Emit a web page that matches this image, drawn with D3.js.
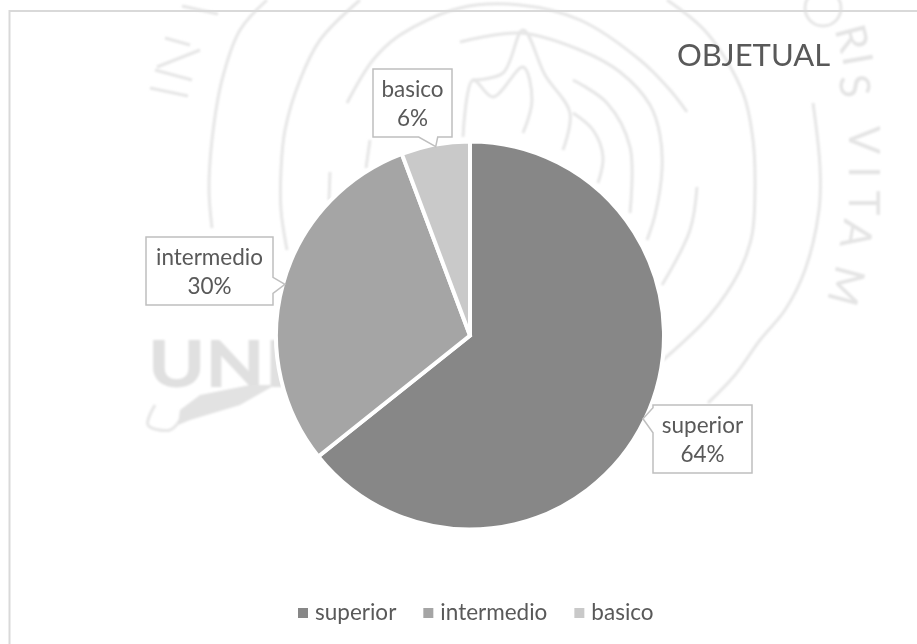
<!DOCTYPE html>
<html lang="en">

<head>
	<meta charset="UTF-8"/>
	<title>OBJETUAL</title>
	<script src="https://d3js.org/d3.v7.min.js"></script>
	<style>
		body { margin: 0; background: #fff; }
		svg { display: block; }
		text { font-family: Lato, "Open Sans", sans-serif; fill: #595959; }
	</style>
</head>

<body>

	<script>

		var w = 917;
		var h = 644;

		//chart values
		var categories = ["superior", "intermedio", "basico"];
		var counts = [45, 21, 4];
		var sliceColors = ["#878787", "#a5a5a5", "#c9c9c9"];

		//callout boxes, same order as categories
		var boxLeft = [653, 146, 373];
		var boxTop = [405, 237, 69];
		var boxWidth = [99, 127, 79];
		var boxHeight = 68;

		//watermark behind the chart
		var ringLines = [
			[[667,0],[707,33],[743,93],[753,140],[755,187],[752,235],[740,270],[710,315],[663,360]],
			[[267,0],[240,30],[222,80],[212,140],[209,190],[212,228]],
			[[360,0],[320,40],[300,80],[285,130],[281,170],[281,210],[287,250]],
			[[347,103],[373,60],[400,35],[460,8],[520,5],[580,20],[640,60],[670,90],[687,112]],
			[[460,42],[520,33],[580,50],[620,72],[650,105],[660,135],[662,170],[655,215],[647,240]],
			[[697,187],[690,230],[662,285]],
			[[813,103],[820,167],[819,210],[805,270],[785,310],[760,340],[735,375],[708,403]],
			[[463,137],[473,80],[493,97],[523,67],[532,100],[523,133]],
			[[473,80],[503,73],[523,30],[545,75],[570,113],[563,150]],
			[[573,113],[593,130],[603,157],[598,183]],
			[[573,80],[607,103],[630,147],[630,213]],
			[[370,140],[366,168]],
			[[330,172],[329,200]],
			[[182,6],[218,14]],
			[[155,405],[148,425],[170,430],[180,420]],
			[[165,38],[190,45]],
			[[157,67],[200,50]],
			[[155,70],[192,80]],
			[[150,88],[188,96]]
		];
		var sealLetters = [
			["R", 838, 42, 75], ["I", 843, 62, 80], ["S", 840, 88, 82],
			["V", 849, 140, 90], ["I", 849, 172, 90], ["T", 849, 203, 90],
			["A", 842, 232, 100], ["M", 832, 282, 105]
		];

		var svg = d3.select("body")
					.append("svg")
					.attr("width", w)
					.attr("height", h);

		var defs = svg.append("defs");
		defs.append("filter")
			.attr("id", "soft")
			.append("feGaussianBlur")
			.attr("stdDeviation", 1);

		//watermark
		var mark = svg.append("g").attr("filter", "url(#soft)");
		var ringLine = d3.line().curve(d3.curveCatmullRom);

		mark.selectAll("path")
			.data(ringLines)
			.enter()
			.append("path")
			.attr("d", ringLine)
			.attr("fill", "none")
			.attr("stroke", "#e6e6e6")
			.attr("stroke-width", 3);

		mark.append("circle")
			.attr("cx", 823)
			.attr("cy", 8)
			.attr("r", 18)
			.attr("fill", "none")
			.attr("stroke", "#e6e6e6")
			.attr("stroke-width", 3);

		mark.selectAll("text.seal")
			.data(sealLetters)
			.enter()
			.append("text")
			.attr("class", "seal")
			.attr("text-anchor", "middle")
			.attr("transform", function(d){
				return "translate(" + d[1] + "," + d[2] + ") rotate(" + d[3] + ")";
			})
			.style("font-size", "42px")
			.style("fill", "#e4e4e4")
			.text(function(d){
				return d[0];
			});

		mark.append("text")
			.attr("x", 148)
			.attr("y", 387)
			.attr("textLength", 140)
			.attr("lengthAdjust", "spacingAndGlyphs")
			.style("font-size", "65px")
			.style("font-weight", "900")
			.style("fill", "#e0e0e0")
			.text("UNI");

		mark.append("path")
			.attr("d", d3.line()([[180,410],[200,395],[250,385],[275,385],[240,405],[190,420],[178,425]]))
			.attr("fill", "#e2e2e2");

		//chart frame, runs off the right and bottom of the page
		svg.append("path")
			.attr("d", "M" + w + ",11H9.5V" + h)
			.attr("fill", "none")
			.attr("stroke", "#d9d9d9")
			.attr("stroke-width", 2);

		//pie
		var cx = 470;
		var cy = 335.5;
		var radius = 194;

		var color = d3.scaleOrdinal()
						.domain(categories)
						.range(sliceColors);

		var pie = d3.pie().sort(null);
		var arc = d3.arc().innerRadius(0).outerRadius(radius);
		var total = d3.sum(counts);
		var percent = d3.format(".0%");

		var slices = pie(counts);

		var pieGroup = svg.append("g")
						.attr("transform", "translate(" + cx + "," + cy + ")");

		pieGroup.selectAll("path")
			.data(slices)
			.enter()
			.append("path")
			.attr("d", arc)
			.attr("fill", function(d, i){
				return color(categories[i]);
			})
			.attr("stroke", "#fff")
			.attr("stroke-width", 4);

		//point on the rim in the middle of a slice, the callout tip goes here
		function rimPoint(d) {
			var a = (d.startAngle + d.endAngle) / 2;
			var r = radius - 2;
			return [cx + r * Math.sin(a), cy - r * Math.cos(a)];
		}

		//box outline with a small pointer out of the side facing the tip
		function calloutPath(x, y, bw, bh, tip) {
			var r = x + bw;
			var b = y + bh;
			if (tip[0] < x) {
				return "M" + x + "," + y + "V" + (tip[1] - 11) + "L" + tip + "L" + x + "," + (tip[1] + 14)
					+ "V" + b + "H" + r + "V" + y + "Z";
			}
			if (tip[0] > r) {
				return "M" + x + "," + y + "H" + r + "V" + (tip[1] - 7) + "L" + tip + "L" + r + "," + (tip[1] + 9)
					+ "V" + b + "H" + x + "Z";
			}
			return "M" + x + "," + y + "H" + r + "V" + b + "H" + (tip[0] + 2) + "L" + tip + "L" + (tip[0] - 17) + "," + b
				+ "H" + x + "Z";
		}

		var callouts = svg.selectAll("g.callout")
						.data(slices)
						.enter()
						.append("g")
						.attr("class", "callout");

		callouts.append("path")
			.attr("d", function(d, i){
				return calloutPath(boxLeft[i], boxTop[i], boxWidth[i], boxHeight, rimPoint(d));
			})
			.attr("fill", "#fff")
			.attr("stroke", "#bfbfbf")
			.attr("stroke-width", 1.5);

		callouts.append("text")
			.attr("x", function(d, i){
				return boxLeft[i] + boxWidth[i] / 2;
			})
			.attr("y", function(d, i){
				return boxTop[i] + 28;
			})
			.attr("text-anchor", "middle")
			.style("font-size", "22.5px")
			.text(function(d, i){
				return categories[i];
			});

		callouts.append("text")
			.attr("x", function(d, i){
				return boxLeft[i] + boxWidth[i] / 2;
			})
			.attr("y", function(d, i){
				return boxTop[i] + 57;
			})
			.attr("text-anchor", "middle")
			.style("font-size", "22.5px")
			.text(function(d){
				return percent(d.value / total);
			});

		//title
		svg.append("text")
			.attr("x", 677)
			.attr("y", 66)
			.style("font-size", "31px")
			.text("OBJETUAL");

		//legend, laid out left to right from the text widths
		var legendX = 298;
		categories.forEach(function(c){
			svg.append("rect")
				.attr("x", legendX)
				.attr("y", 608)
				.attr("width", 10)
				.attr("height", 10)
				.attr("fill", color(c));

			var label = svg.append("text")
				.attr("x", legendX + 17)
				.attr("y", 620)
				.style("font-size", "22.5px")
				.text(c);

			legendX += 17 + label.node().getComputedTextLength() + 27;
		});

	</script>

</body>
</html>
